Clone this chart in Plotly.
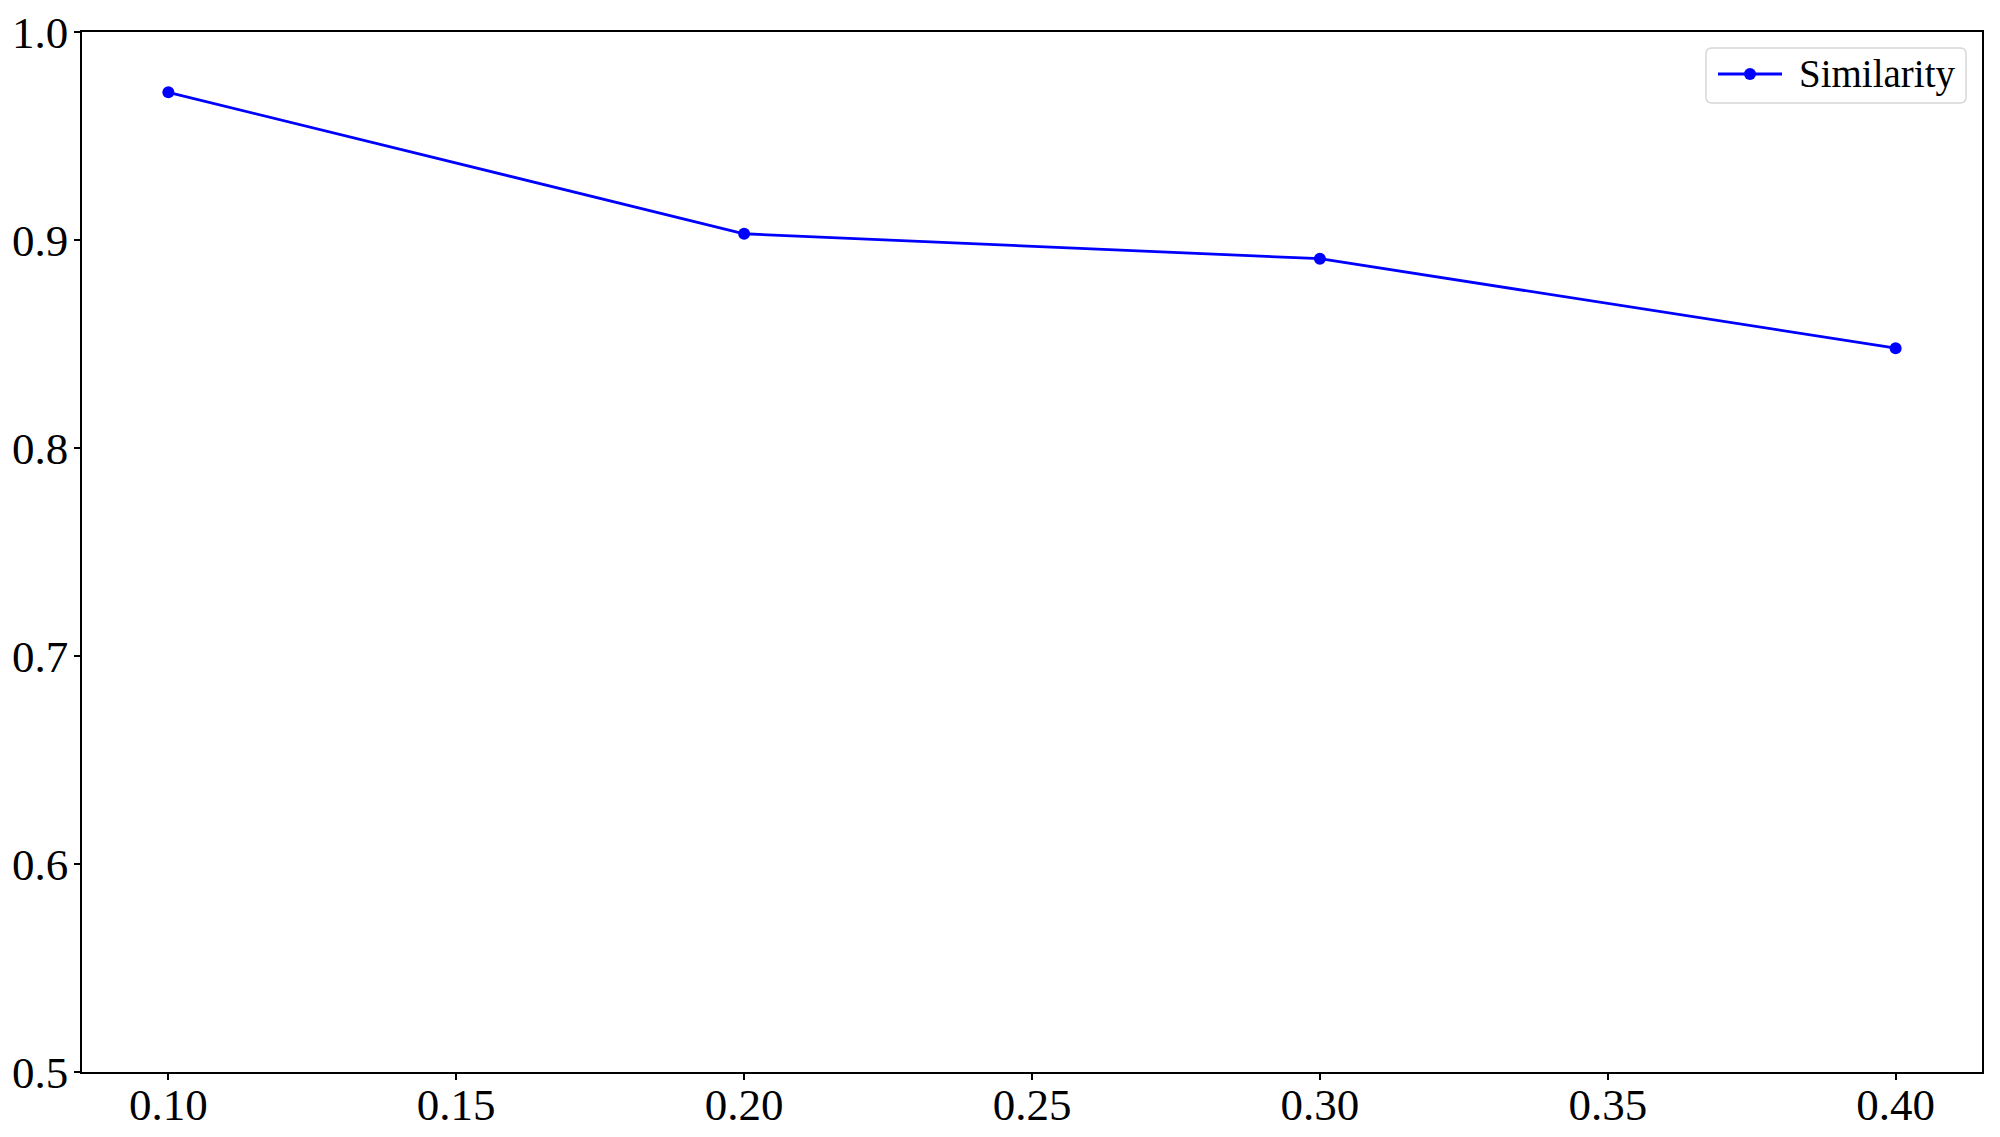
import plotly.graph_objects as go

# noise ratio vs similarity
ratio = [0.10, 0.20, 0.30, 0.40]
similarity = [0.971, 0.903, 0.891, 0.848]
x_ticks = [0.10, 0.15, 0.20, 0.25, 0.30, 0.35, 0.40]
x_labels = ["0.10", "0.15", "0.20", "0.25", "0.30", "0.35", "0.40"]
y_ticks = [0.5, 0.6, 0.7, 0.8, 0.9, 1.0]
y_labels = ["0.5", "0.6", "0.7", "0.8", "0.9", "1.0"]

font = "Liberation Serif, Times New Roman, serif"

# the page body has an 8px margin, so size the figure to the space left
OFF = 8
W, H = 2000 - 2 * OFF, 1137 - 2 * OFF
# plot area in page pixels: x 82..1982, y 32..1072
L, T = 82 - OFF, 32 - OFF
R, B = W - (1982 - OFF), H - (1072 - OFF)
pw, ph = W - L - R, H - T - B


# page pixel -> paper (plot area) coords, for the hand drawn legend box
def px(x):
    return (x - OFF - L) / pw


def py(y):
    return (H - B - (y - OFF)) / ph


def rounded_box(x0, y0, x1, y1, r=6):
    rx, ry = r / pw, r / ph
    a0, a1, b0, b1 = px(x0), px(x1), py(y1), py(y0)
    return (f"M{a0 + rx},{b0} L{a1 - rx},{b0} Q{a1},{b0} {a1},{b0 + ry} "
            f"L{a1},{b1 - ry} Q{a1},{b1} {a1 - rx},{b1} "
            f"L{a0 + rx},{b1} Q{a0},{b1} {a0},{b1 - ry} "
            f"L{a0},{b0 + ry} Q{a0},{b0} {a0 + rx},{b0} Z")


axis_style = dict(
    automargin=False, ticklabeloverflow="allow",
    showgrid=False, zeroline=False,
    showline=True, linecolor="black", linewidth=1.5, mirror=True,
    ticks="outside", ticklen=6, tickwidth=1.5, tickcolor="black",
)

leg_y = 74
fig = go.Figure(
    data=[
        go.Scatter(
            x=ratio, y=similarity,
            mode="lines+markers",
            name="Similarity",
            line=dict(color="blue", width=2.8),
            marker=dict(color="blue", size=12),
            showlegend=False,
        )
    ],
    layout=go.Layout(
        width=W, height=H,
        template="none",
        paper_bgcolor="white",
        plot_bgcolor="white",
        margin=dict(l=L, r=R, t=T, b=B),
        font=dict(family=font, size=45, color="black"),
        xaxis=dict(range=[0.085, 0.415], tickvals=x_ticks, ticktext=x_labels,
                   ticklabelstandoff=-14, **axis_style),
        yaxis=dict(range=[0.5, 1.0], tickvals=y_ticks, ticktext=y_labels,
                   ticklabelstandoff=-3, **axis_style),
        shapes=[
            dict(type="path", xref="paper", yref="paper",
                 path=rounded_box(1706, 48, 1966, 103),
                 line=dict(color="#d6d6d6", width=1.5), fillcolor="white"),
            dict(type="line", xref="paper", yref="paper",
                 x0=px(1718), x1=px(1782), y0=py(leg_y), y1=py(leg_y),
                 line=dict(color="blue", width=2.8)),
            dict(type="circle", xref="paper", yref="paper",
                 x0=px(1744), x1=px(1756), y0=py(leg_y + 6), y1=py(leg_y - 6),
                 line=dict(color="blue", width=0), fillcolor="blue"),
        ],
        annotations=[
            dict(text="Similarity", xref="paper", yref="paper",
                 x=px(1797), y=py(leg_y), xanchor="left", yanchor="middle",
                 showarrow=False, font=dict(family=font, size=39, color="black")),
        ],
    ),
)

fig.write_html("out.html")
